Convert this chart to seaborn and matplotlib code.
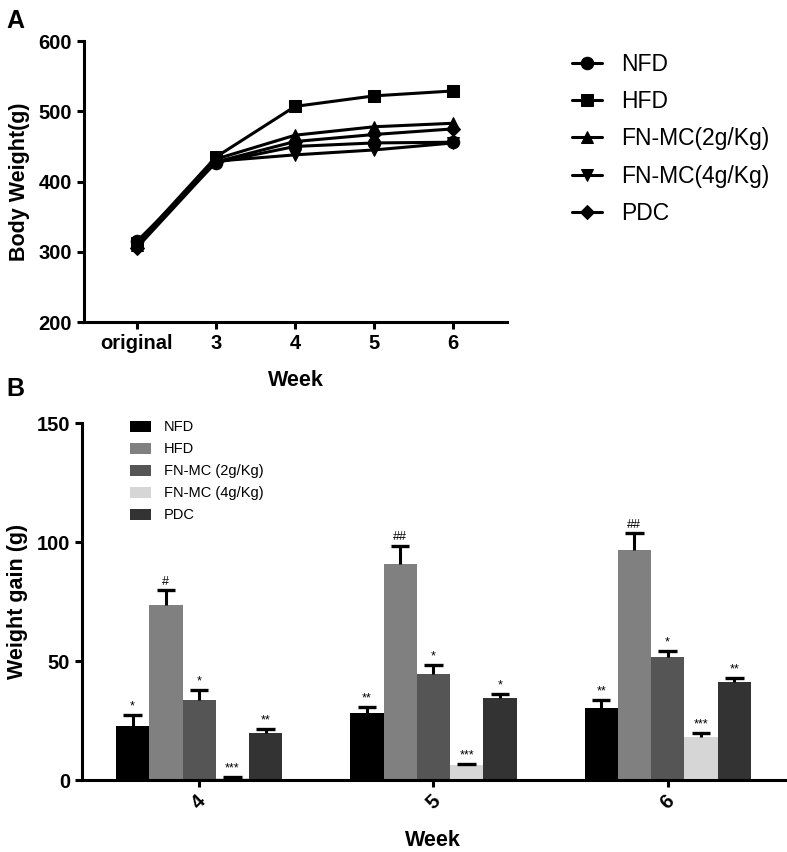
import numpy as np
import pandas as pd
import matplotlib
matplotlib.use('Agg')
import matplotlib.pyplot as plt
import seaborn as sns

# panel A: body weight over time
week_labels = ['original', '3', '4', '5', '6']
groups_a = ['NFD', 'HFD', 'FN-MC(2g/Kg)', 'FN-MC(4g/Kg)', 'PDC']
nfd_w = [315, 427, 450, 455, 456]
hfd_w = [312, 435, 507, 522, 529]
fn2_w = [310, 432, 466, 478, 483]
fn4_w = [309, 429, 438, 445, 455]
pdc_w = [306, 428, 457, 467, 475]
markers_a = ['o', 's', '^', 'v', 'D']

# panel B: weight gain
weeks_b = ['4', '5', '6']
groups_b = ['NFD', 'HFD', 'FN-MC (2g/Kg)', 'FN-MC (4g/Kg)', 'PDC']
gain_nfd = [22.7, 28.2, 30.1]
gain_hfd = [73.5, 90.9, 96.8]
gain_fn2 = [33.8, 44.5, 51.5]
gain_fn4 = [0.8, 6.2, 17.9]
gain_pdc = [19.6, 34.5, 41.0]
err_nfd = [4.5, 2.5, 3.5]
err_hfd = [6.2, 7.6, 6.8]
err_fn2 = [4.2, 3.8, 2.8]
err_fn4 = [0.4, 0.7, 1.8]
err_pdc = [1.7, 1.7, 1.8]
sig_nfd = ['*', '**', '**']
sig_hfd = ['#', '##', '##']
sig_fn2 = ['*', '*', '*']
sig_fn4 = ['***', '***', '***']
sig_pdc = ['**', '*', '**']
colors_b = ['#000000', '#808080', '#555555', '#d6d6d6', '#333333']

sns.set_style('ticks')
plt.rcParams['font.family'] = ['Liberation Sans', 'DejaVu Sans']
plt.rcParams.update({'text.color': 'black', 'axes.labelcolor': 'black',
                     'xtick.color': 'black', 'ytick.color': 'black'})

fig = plt.figure(figsize=(7.87, 8.52), dpi=100)
ax_a = fig.add_axes([0.1067, 0.622, 0.5375, 0.3298])
ax_b = fig.add_axes([0.1042, 0.0845, 0.893, 0.419])

# ---- panel A
weights = [nfd_w, hfd_w, fn2_w, fn4_w, pdc_w]
xpos = np.arange(len(week_labels))
for name, vals, mk in zip(groups_a, weights, markers_a):
    ms = 7.5 if mk == 'D' else 9
    sns.lineplot(x=xpos, y=vals, marker=mk, markersize=ms, color='black', linewidth=2.2,
                 markeredgecolor='black', label=name, ax=ax_a)
ax_a.set_xlim(-0.67, 4.68)
ax_a.set_ylim(200, 600)
ax_a.set_yticks([200, 300, 400, 500, 600])
ax_a.set_xticks(xpos)
ax_a.set_xticklabels(week_labels)
ax_a.set_xlabel('Week', fontsize=15.5, fontweight='bold', labelpad=12)
ax_a.set_ylabel('Body Weight(g)', fontsize=15.5, fontweight='bold', labelpad=6)
handles, labels = ax_a.get_legend_handles_labels()
ax_a.get_legend().remove()
fig.legend(handles, labels, loc='upper left', bbox_to_anchor=(0.7, 0.962), frameon=False,
           fontsize=16.5, labelspacing=0.62, handlelength=1.35, handletextpad=0.8)

# ---- panel B
gains = [gain_nfd, gain_hfd, gain_fn2, gain_fn4, gain_pdc]
errs = [err_nfd, err_hfd, err_fn2, err_fn4, err_pdc]
sigs = [sig_nfd, sig_hfd, sig_fn2, sig_fn4, sig_pdc]
df_b = pd.DataFrame({
    'Week': np.tile(weeks_b, len(groups_b)),
    'Group': np.repeat(groups_b, len(weeks_b)),
    'Gain': np.concatenate(gains),
})
sns.barplot(data=df_b, x='Week', y='Gain', hue='Group', palette=colors_b, width=0.71,
            errorbar=None, linewidth=0, ax=ax_b)
# upper-only error bars with a single cap, plus significance marks
for cont, g_err, g_sig in zip(ax_b.containers, errs, sigs):
    for bar, e, s in zip(cont, g_err, g_sig):
        w = bar.get_width()
        xc = bar.get_x() + w / 2
        top = bar.get_height()
        ax_b.vlines(xc, top, top + e, color='black', linewidth=2.2)
        ax_b.hlines(top + e, xc - w * 0.28, xc + w * 0.28, color='black', linewidth=2.4)
        ax_b.text(xc, top + e + 1.0, s, ha='center', va='bottom', fontsize=9)
ax_b.set_xlim(-0.5, 2.5)
ax_b.set_ylim(0, 150)
ax_b.set_yticks([0, 50, 100, 150])
ax_b.set_xlabel('Week', fontsize=15.5, fontweight='bold', labelpad=12)
ax_b.set_ylabel('Weight gain (g)', fontsize=15.5, fontweight='bold', labelpad=6)
for lab in ax_b.get_xticklabels():
    lab.set_rotation(45)
ax_b.legend(loc='upper left', bbox_to_anchor=(0.149, 0.522), bbox_transform=fig.transFigure,
            frameon=False, fontsize=10.5, labelspacing=0.55, handlelength=1.4,
            handleheight=0.8, handletextpad=0.9, title=None)

for ax in (ax_a, ax_b):
    sns.despine(ax=ax)
    for sp in ('left', 'bottom'):
        ax.spines[sp].set_linewidth(2.2)
        ax.spines[sp].set_color('black')
    ax.tick_params(width=2.2, length=5, color='black', labelsize=14.5)
    for lab in ax.get_xticklabels() + ax.get_yticklabels():
        lab.set_fontweight('bold')

fig.text(0.008, 0.975, 'A', fontsize=18, fontweight='bold', va='center')
fig.text(0.008, 0.543, 'B', fontsize=18, fontweight='bold', va='center')

fig.savefig('out.png', dpi=100)
